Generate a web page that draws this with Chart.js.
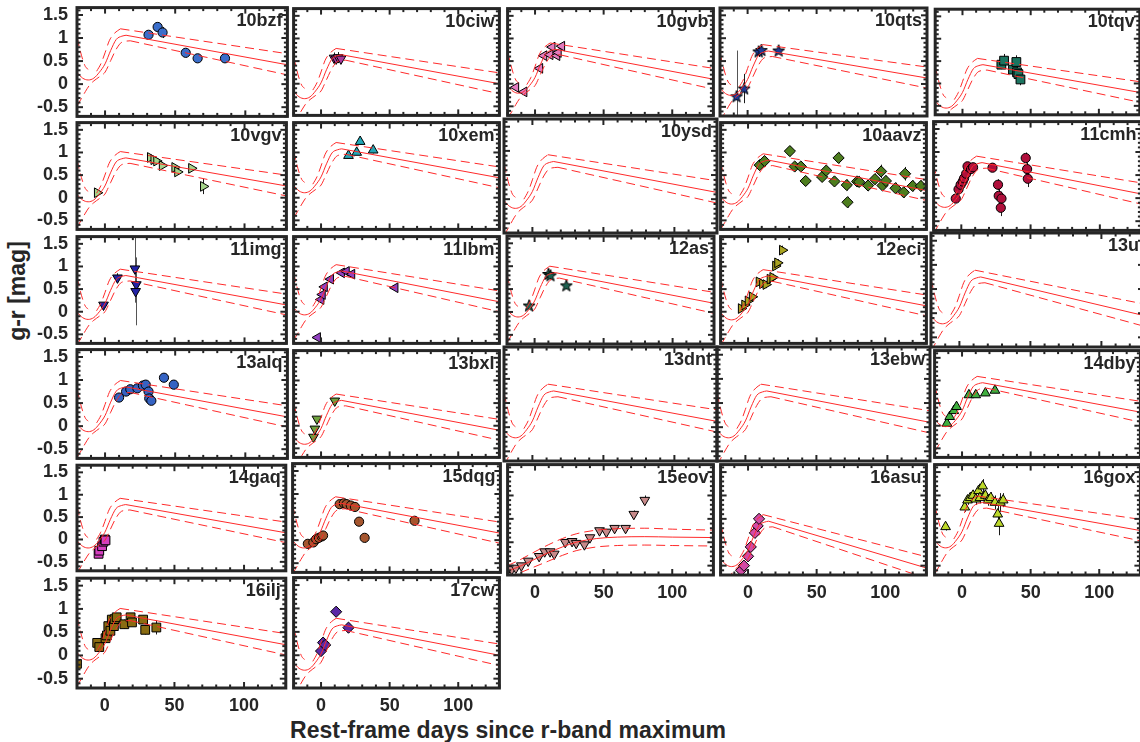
<!DOCTYPE html>
<html>
<head>
<meta charset="utf-8">
<script src="https://cdn.jsdelivr.net/npm/chart.js"></script>
<style>
  body { margin: 0; background: #fff; width: 1140px; height: 742px; overflow: hidden; position: relative; font-family: "Liberation Sans", Arial, sans-serif; }
  canvas { position: absolute; }
  .title { position: absolute; font-weight: bold; color: #262626; font-size: 23px; white-space: nowrap; line-height: 1; }
  #xtitle { left: 508px; top: 730px; transform: translate(-50%, -50%); }
  #ytitle { left: 17px; top: 291px; transform: translate(-50%, -50%) rotate(-90deg); }
</style>
</head>
<body>
<div class="title" id="xtitle">Rest-frame days since r-band maximum</div>
<div class="title" id="ytitle">g-r [mag]</div>
<script>
// ---- data ----
const names = ['10bzf','10ciw','10gvb','10qts','10tqv',
               '10vgv','10xem','10ysd','10aavz','11cmh',
               '11img','11lbm','12as','12eci','13u',
               '13alq','13bxl','13dnt','13ebw','14dby',
               '14gaq','15dqg','15eov','16asu','16gox',
               '16ilj','17cw'];

// model colour at peak (~+15 d) and at +130 d, per panel
const peakMag = [1.06, 0.64, 0.76, 0.72, 0.42,
                 0.88, 1.08, 0.78, 0.83, 0.77,
                 0.80, 0.90, 0.86, 0.79, 0.75,
                 0.85, 0.56, 0.75, 0.75, 0.95,
                 0.78, 0.80, 0.00, 0.45, 0.85,
                 0.87, 0.65];
const endMag = [0.42, 0.00, 0.10, 0.13, -0.20,
                0.26, 0.44, 0.14, 0.16, 0.09,
                0.15, 0.22, 0.19, 0.13, -0.05,
                0.20, -0.10, 0.12, 0.10, 0.30,
                0.15, 0.15, 0.00, -0.55, 0.25,
                0.23, 0.00];

// shared template of the early model colour curve (relative to the peak)
const riseDays = [-20, -16, -12, -8, -4, 0, 4, 8, 12, 15];
const riseMid  = [-0.81, -0.93, -0.97, -0.93, -0.80, -0.62, -0.33, -0.09, -0.02, 0];
const hiEarlyDays = [-20, -18, -16, -14, -12];
const hiEarly     = [-0.04, -0.30, -0.52, -0.68, -0.74];
const hiRiseDays  = [-6, -3, 0, 3, 6, 9, 11];
const hiRise      = [-0.78, -0.62, -0.38, -0.12, 0.02, 0.10, 0.14];
const loDays = [-20, -17, -14, -11, -8, -4, 0, 4, 8, 12, 18];
const loRise = [-1.53, -1.38, -1.22, -1.08, -0.99, -0.90, -0.80, -0.55, -0.30, -0.15, -0.12];
const lateHiEnd = 0.24, lateLoEnd = -0.22;

// 15eov has its own slow model
const eovDays = [-20, -10, 0, 10, 20, 30, 45, 60, 80, 100, 130];
const eovMid  = [-0.62, -0.50, -0.36, -0.22, -0.10, 0.00, 0.08, 0.11, 0.12, 0.11, 0.10];
const eovHi   = [-0.50, -0.36, -0.20, -0.05, 0.08, 0.18, 0.26, 0.29, 0.30, 0.28, 0.26];
const eovLo   = [-0.75, -0.64, -0.52, -0.40, -0.28, -0.18, -0.10, -0.07, -0.06, -0.07, -0.08];

const obsDays = [
  [31, 37.5, 41, 57.5, 66, 85.5],
  [9.5, 11, 12.5, 14.5],
  [-14, -8, 3.5, 6.5, 11, 12.5, 16, 17, 19.5],
  [-8, -2.5, 8, 10, 22.5],
  [28.5, 30.5, 37, 39.5, 40, 41, 42.5],
  [-5.5, 32.5, 35, 37, 41, 50, 52, 62, 70.5],
  [20, 26, 28.5, 38],
  [],
  [8.5, 12, 30.5, 34, 38.5, 42, 54, 57, 63, 66, 72, 72.5, 79.5, 81, 87.5, 92.5, 97, 98, 100.5, 107.5, 113.5, 114.5, 120, 126],
  [-4, -2, -0.5, 1, 2, 3.5, 4.5, 7, 8.5, 22.5, 26.5, 27, 29, 28.5, 46.5, 47.5, 48],
  [-1, 9, 21.5, 22.5, 22],
  [-2.5, 0, 1, 2.5, 7, 15, 18.5, 22.5, 54],
  [-4, 10, 11.5, 23],
  [-5, -2.5, 0, 3, 8, 10.5, 13, 16, 18, 20, 21.5, 25],
  [],
  [10, 15, 18, 23, 27, 29, 31, 31.5, 33, 42, 49],
  [-5.5, -4.5, -3, 10],
  [],
  [],
  [-11, -9, -6, -4, 5, 10, 17, 24],
  [-4.5, -4, -2, -1, 0, 0.5],
  [-9, -5, -3, -1, 1, 2, 14, 17, 19, 22, 25, 28, 32, 68],
  [-20, -17, -14, -10, -5, 3, 7, 11, 14, 22, 27, 30, 36, 40, 47, 52, 58, 66, 72, 80],
  [-5, -3, 0, 2, 5, 7, 8],
  [-12, 2, 4, 6, 8, 10, 12, 13, 15, 17, 19, 21, 24, 26, 27, 28, 30],
  [-20, -5.5, -4, 0.5, 1.5, 2.5, 4, 5, 6.5, 7, 8.5, 14, 18.5, 19.5, 27.5, 29, 37],
  [0, 1.5, 3, 11, 20]
];
const obsMags = [
  [1.07, 1.24, 1.12, 0.68, 0.56, 0.56],
  [0.57, 0.55, 0.58, 0.55],
  [-0.08, -0.18, 0.34, 0.62, 0.64, 0.81, 0.62, 0.69, 0.83],
  [-0.27, -0.10, 0.71, 0.74, 0.73],
  [0.42, 0.51, 0.31, 0.48, 0.25, 0.21, 0.09],
  [0.11, 0.89, 0.84, 0.81, 0.71, 0.67, 0.57, 0.65, 0.25],
  [0.93, 1.00, 1.24, 1.05],
  [],
  [0.72, 0.81, 1.03, 0.69, 0.69, 0.37, 0.46, 0.60, 0.36, 0.88, 0.28, -0.10, 0.36, 0.35, 0.27, 0.41, 0.58, 0.27, 0.37, 0.21, 0.12, 0.53, 0.26, 0.26],
  [-0.01, 0.19, 0.29, 0.36, 0.43, 0.53, 0.69, 0.63, 0.67, 0.66, 0.29, 0.05, -0.01, -0.21, 0.87, 0.63, 0.42],
  [0.15, 0.75, 0.95, 0.60, 0.45],
  [-0.57, 0.27, 0.38, 0.55, 0.72, 0.86, 0.89, 0.83, 0.53],
  [0.14, 0.83, 0.80, 0.58],
  [0.07, 0.15, 0.24, 0.33, 0.66, 0.62, 0.60, 0.72, 0.76, 1.01, 1.08, 1.36],
  [],
  [0.62, 0.75, 0.80, 0.82, 0.88, 0.90, 0.75, 0.60, 0.55, 1.05, 0.90],
  [-0.25, -0.07, 0.15, 0.55],
  [],
  [],
  [0.05, 0.20, 0.33, 0.42, 0.68, 0.68, 0.72, 0.78],
  [-0.32, -0.25, -0.15, -0.05, 0.00, -0.02],
  [-0.08, -0.05, 0.02, 0.05, 0.08, 0.10, 0.78, 0.80, 0.78, 0.75, 0.72, 0.40, 0.05, 0.42],
  [-0.60, -0.58, -0.55, -0.50, -0.40, -0.30, -0.20, -0.20, -0.25, 0.00, 0.02, -0.02, -0.05, 0.10, 0.25, 0.22, 0.30, 0.30, 0.60, 0.90],
  [-0.60, -0.50, -0.30, -0.10, 0.20, 0.35, 0.50],
  [0.33, 0.75, 0.90, 0.95, 1.00, 0.92, 1.10, 0.95, 1.20, 1.00, 0.90, 0.95, 0.85, 0.60, 0.40, 0.85, 0.90],
  [-0.18, 0.27, 0.18, 0.37, 0.43, 0.63, 0.53, 0.77, 0.63, 0.78, 0.82, 0.67, 0.82, 0.71, 0.77, 0.55, 0.60],
  [0.09, 0.27, 0.22, 0.93, 0.59]
];
// error bar half-lengths, one per point
const obsErrs = [
  [0.06, 0.06, 0.12, 0.10, 0.06, 0.08],
  [0.12, 0.10, 0.12, 0.10],
  [0.05, 0.05, 0.05, 0.05, 0.05, 0.05, 0.05, 0.05, 0.05],
  [1.00, 0.32, 0.12, 0.12, 0.08],
  [0.10, 0.15, 0.12, 0.15, 0.10, 0.12, 0.13],
  [0.04, 0.04, 0.04, 0.04, 0.04, 0.04, 0.04, 0.04, 0.17],
  [0.03, 0.03, 0.03, 0.07],
  [],
  [0.08, 0.08, 0.10, 0.10, 0.08, 0.10, 0.10, 0.10, 0.10, 0.12, 0.12, 0.12, 0.12, 0.12, 0.12, 0.12, 0.15, 0.12, 0.12, 0.12, 0.12, 0.15, 0.12, 0.12],
  [0.05, 0.05, 0.05, 0.05, 0.05, 0.05, 0.05, 0.05, 0.05, 0.08, 0.12, 0.15, 0.15, 0.18, 0.12, 0.15, 0.18],
  [0.05, 0.10, 0.75, 0.50, 0.75],
  [0.04, 0.04, 0.04, 0.04, 0.04, 0.04, 0.04, 0.04, 0.04],
  [0.03, 0.03, 0.03, 0.03],
  [0.06, 0.06, 0.06, 0.06, 0.08, 0.08, 0.08, 0.08, 0.08, 0.08, 0.08, 0.10],
  [],
  [0.05, 0.05, 0.05, 0.05, 0.05, 0.05, 0.06, 0.06, 0.06, 0.05, 0.10],
  [0.04, 0.04, 0.04, 0.04],
  [],
  [],
  [0.04, 0.04, 0.04, 0.04, 0.04, 0.04, 0.04, 0.04],
  [0.05, 0.05, 0.05, 0.05, 0.05, 0.05],
  [0.04, 0.04, 0.04, 0.04, 0.04, 0.04, 0.04, 0.04, 0.04, 0.04, 0.04, 0.08, 0.10, 0.10],
  [0.04, 0.04, 0.04, 0.04, 0.04, 0.04, 0.04, 0.04, 0.04, 0.04, 0.04, 0.04, 0.04, 0.04, 0.05, 0.05, 0.05, 0.05, 0.08, 0.10],
  [0.05, 0.05, 0.05, 0.05, 0.05, 0.05, 0.05],
  [0.08, 0.10, 0.10, 0.10, 0.12, 0.12, 0.15, 0.12, 0.15, 0.12, 0.12, 0.12, 0.15, 0.20, 0.25, 0.20, 0.15],
  [0.05, 0.06, 0.06, 0.06, 0.06, 0.06, 0.06, 0.06, 0.06, 0.06, 0.06, 0.10, 0.06, 0.06, 0.08, 0.10, 0.15],
  [0.06, 0.06, 0.06, 0.07, 0.08]
];
const markerStyle = ['circle','triDown','triLeft','star','rect',
                     'triRight','triangle',null,'rectRot','circle',
                     'triDown','triLeft','star','triRight',null,
                     'circle','triDown',null,null,'triangle',
                     'rect','circle','triDown','rectRot','triangle',
                     'rect','rectRot'];
const markerColor = ['#3b6ecb','#a8389e','#e27bbf','#1d3a96','#1b7560',
                     '#a6d58b','#22a7b6',null,'#4d7d1e','#b0103c',
                     '#2323a6','#9342c2','#1e6050','#aaa421',null,
                     '#3563c3','#6fa23e',null,null,'#3fae3f',
                     '#d43fbf','#a5562f','#c78a8a','#d24aa6','#bcd82a',
                     '#8a6c12','#5a28a6'];

const xMajor = [0, 50, 100];
const yMajor = [-0.5, 0, 0.5, 1, 1.5];

// ---- layout ----
const colLeft = [77, 290, 503.5, 717, 930.5];
const rowTop = [5, 119, 233, 347, 461, 574];
const panelW = 213, panelH = 114;
const xMin = -20, xMax = 130, yMin = -0.7, yMax = 1.66;
const ink = '#262626';
const red = '#ff2a2a';
const font18 = { family: '"Liberation Sans", Arial, sans-serif', size: 18, weight: 'bold' };

function starImage(color) {
  const c = document.createElement('canvas');
  c.width = 14; c.height = 14;
  const g = c.getContext('2d');
  g.beginPath();
  for (let k = 0; k < 10; k++) {
    const r = k % 2 === 0 ? 6.3 : 2.6;
    const a = -Math.PI / 2 + k * Math.PI / 5;
    g.lineTo(7 + r * Math.cos(a), 7.5 + r * Math.sin(a));
  }
  g.closePath();
  g.fillStyle = color; g.fill();
  g.lineWidth = 1; g.strokeStyle = '#000'; g.stroke();
  return c;
}

function markerOptions(style, color) {
  const base = { backgroundColor: color, borderColor: '#000', pointBorderWidth: 1, pointRadius: 5 };
  switch (style) {
    case 'circle': return { ...base, pointStyle: 'circle', pointRadius: 4.6 };
    case 'rect': return { ...base, pointStyle: 'rect', pointRadius: 6.2 };
    case 'rectRot': return { ...base, pointStyle: 'rectRot', pointRadius: 5.6 };
    case 'triangle': return { ...base, pointStyle: 'triangle', pointRadius: 5.6 };
    case 'triDown': return { ...base, pointStyle: 'triangle', pointRotation: 180, pointRadius: 5.6 };
    case 'triLeft': return { ...base, pointStyle: 'triangle', pointRotation: -90, pointRadius: 5.6 };
    case 'triRight': return { ...base, pointStyle: 'triangle', pointRotation: 90, pointRadius: 5.6 };
    case 'star': return { ...base, pointStyle: starImage(color) };
  }
  return base;
}

function lineSet(points, dashed, curved) {
  return {
    data: points, showLine: true, pointRadius: 0, borderColor: red, borderWidth: 1,
    borderDash: dashed ? [9, 5] : [], spanGaps: false, clip: 0,
    tension: curved ? 0.4 : 0, cubicInterpolationMode: curved ? 'monotone' : 'default'
  };
}

function modelSets(i) {
  if (names[i] === '15eov') {
    return [
      lineSet(eovDays.map((d, k) => ({ x: d, y: eovMid[k] })), false, true),
      lineSet(eovDays.map((d, k) => ({ x: d, y: eovHi[k] })), true, true),
      lineSet(eovDays.map((d, k) => ({ x: d, y: eovLo[k] })), true, true)
    ];
  }
  const P = peakMag[i], E = endMag[i];
  const midEarly = riseDays.map((d, k) => ({ x: d, y: P + riseMid[k] }));
  const hiA = hiEarlyDays.map((d, k) => ({ x: d, y: P + hiEarly[k] }));
  const hiB = hiRiseDays.map((d, k) => ({ x: d, y: P + hiRise[k] }));
  const lo = loDays.map((d, k) => ({ x: d, y: P + loRise[k] }));
  return [
    lineSet(midEarly, false, true),
    lineSet([{ x: 15, y: P }, { x: 130, y: E }], false, false),
    lineSet(hiA, true, true),
    lineSet(hiB, true, true),
    lineSet([{ x: 11, y: P + hiRise[hiRise.length - 1] }, { x: 130, y: E + lateHiEnd }], true, false),
    lineSet(lo, true, true),
    lineSet([{ x: 18, y: P + loRise[loRise.length - 1] }, { x: 130, y: E + lateLoEnd }], true, false)
  ];
}

const errorBars = {
  id: 'errorBars',
  beforeDatasetsDraw(chart) {
    const { ctx, chartArea: a, scales: { y } } = chart;
    ctx.save();
    ctx.beginPath(); ctx.rect(a.left, a.top, a.right - a.left, a.bottom - a.top); ctx.clip();
    ctx.lineWidth = 1;
    chart.data.datasets.forEach((ds, di) => {
      if (!ds.errs) return;
      chart.getDatasetMeta(di).data.forEach((pt, k) => {
        const e = ds.errs[k];
        if (!e) return;
        const v = ds.data[k].y;
        ctx.strokeStyle = e > 0.4 ? '#555' : '#1a1a1a';
        ctx.beginPath();
        ctx.moveTo(Math.round(pt.x) + 0.5, y.getPixelForValue(v + e));
        ctx.lineTo(Math.round(pt.x) + 0.5, y.getPixelForValue(v - e));
        ctx.stroke();
      });
    });
    ctx.restore();
  }
};

const frame = {
  id: 'frame',
  afterDraw(chart, args, opts) {
    const { ctx, chartArea: a, scales: { x, y } } = chart;
    ctx.save();
    ctx.strokeStyle = ink; ctx.fillStyle = ink;
    const seg = (x1, y1, x2, y2) => { ctx.beginPath(); ctx.moveTo(x1, y1); ctx.lineTo(x2, y2); ctx.stroke(); };
    ctx.lineWidth = 2;
    for (let d = xMin; d <= xMax; d += 10) {
      const px = x.getPixelForValue(d);
      const len = xMajor.includes(d) ? 6 : 3.5;
      seg(px, a.bottom, px, a.bottom - len);
      seg(px, a.top, px, a.top + len);
    }
    for (let k = -7; k <= 16; k++) {
      const py = y.getPixelForValue(k / 10);
      const len = k % 5 === 0 ? 6 : 3.5;
      seg(a.left, py, a.left + len, py);
      seg(a.right, py, a.right - len, py);
    }
    ctx.lineWidth = 3;
    ctx.strokeRect(a.left, a.top, a.right - a.left, a.bottom - a.top);
    ctx.font = 'bold 18px "Liberation Sans", Arial, sans-serif';
    ctx.textAlign = 'right'; ctx.textBaseline = 'top';
    ctx.fillText(opts.name, a.right - 5, a.top + 4);
    ctx.restore();
  }
};

names.forEach((name, i) => {
  const col = i % 5, row = Math.floor(i / 5);
  const isLeft = col === 0;
  const isBottom = row === 5 || (row === 4 && col >= 2);
  const padL = isLeft ? 0 : 3, padB = isBottom ? 0 : 3;
  const yAxisW = 77, xAxisH = 34;

  const canvas = document.createElement('canvas');
  canvas.width = isLeft ? yAxisW + panelW + 3 : panelW + 6;
  canvas.height = panelH + 3 + (isBottom ? xAxisH : 3);
  canvas.style.left = (isLeft ? 0 : colLeft[col] - 3) + 'px';
  canvas.style.top = (rowTop[row] - 3) + 'px';
  document.body.appendChild(canvas);

  const datasets = modelSets(i);
  if (obsDays[i].length) {
    datasets.push({
      data: obsDays[i].map((d, k) => ({ x: d, y: obsMags[i][k] })),
      errs: obsErrs[i],
      clip: 0,
      ...markerOptions(markerStyle[i], markerColor[i])
    });
  }

  new Chart(canvas.getContext('2d'), {
    type: 'scatter',
    data: { datasets },
    options: {
      responsive: false,
      animation: false,
      events: [],
      layout: { padding: { left: padL, right: 3, top: 3, bottom: padB } },
      plugins: { legend: { display: false }, tooltip: { enabled: false }, frame: { name } },
      scales: {
        x: {
          type: 'linear', min: xMin, max: xMax, display: isBottom,
          grid: { display: false, drawTicks: false }, border: { display: false },
          afterBuildTicks: s => { s.ticks = xMajor.map(v => ({ value: v })); },
          afterFit: s => { s.height = isBottom ? xAxisH : 0; s.paddingLeft = 0; s.paddingRight = 0; },
          ticks: { color: ink, font: font18, padding: 7, maxRotation: 0, autoSkip: false, callback: v => String(v) }
        },
        y: {
          type: 'linear', min: yMin, max: yMax, display: isLeft,
          grid: { display: false, drawTicks: false }, border: { display: false },
          afterBuildTicks: s => { s.ticks = yMajor.map(v => ({ value: v })); },
          afterFit: s => { s.width = isLeft ? yAxisW : 0; s.paddingTop = 0; s.paddingBottom = 0; },
          ticks: { color: ink, font: font18, padding: 9, autoSkip: false, callback: v => String(v) }
        }
      }
    },
    plugins: [errorBars, frame]
  });
});
</script>
</body>
</html>
